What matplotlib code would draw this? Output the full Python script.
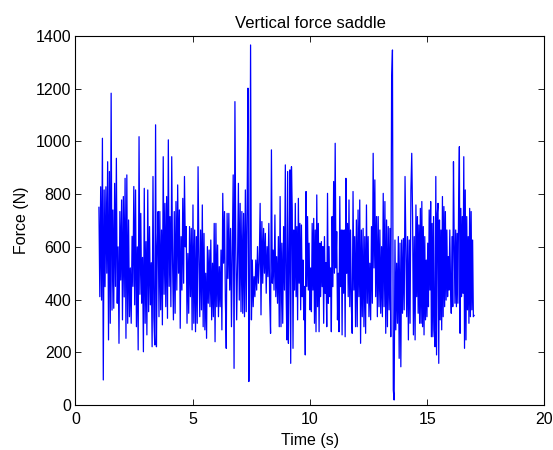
import numpy as np
import matplotlib
matplotlib.use('Agg')
import matplotlib.pyplot as plt

# force, one list per stretch of time
seg_edges = [1.0, 3.38, 6.17, 8.95, 11.73, 14.52, 17.0]

seg_a = [750, 411, 828, 398, 1012, 95, 816, 449, 828, 500, 923, 247, 886, 310, 1183, 360,
         740, 367, 841, 450, 936, 386, 600, 234, 734, 474, 778, 323, 791, 410, 860, 253,
         873, 310, 702, 335, 520, 310, 640, 450, 829, 380, 816, 297, 600, 209, 1018, 420,
         727, 386, 560, 202, 822, 310, 620, 266, 816, 354, 677, 380, 540, 221, 867, 330]
seg_b = [228, 1063, 221, 600, 734, 335, 734, 361, 664, 304, 942, 420, 765, 373, 791, 329,
         1006, 450, 715, 373, 942, 538, 323, 734, 348, 772, 436, 835, 500, 740, 291, 639,
         436, 784, 462, 867, 600, 677, 310, 575, 348, 677, 411, 670, 285, 759, 310, 664,
         278, 639, 310, 904, 563, 335, 664, 361, 759, 297, 651, 285, 500, 253, 601, 386,
         588, 373, 626, 323, 538, 335, 689, 240, 689, 373, 607, 335, 525]
seg_c = [373, 588, 285, 803, 538, 734, 400, 215, 727, 480, 727, 436, 670, 297, 588, 873,
         139, 1151, 588, 323, 538, 841, 398, 765, 354, 734, 348, 727, 335, 816, 354, 736,
         1202, 89, 417, 1366, 323, 550, 373, 487, 411, 550, 436, 601, 462, 538, 765, 342,
         696, 462, 670, 500, 651, 424, 601, 487, 689, 400, 272, 968, 462, 588, 436, 721,
         411, 563, 386, 639, 297, 791, 297, 614, 310, 677, 436]
seg_d = [911, 436, 247, 886, 234, 538, 892, 158, 904, 740, 215, 664, 436, 765, 411, 677,
         323, 784, 462, 689, 361, 683, 411, 550, 323, 450, 190, 810, 450, 715, 436, 614,
         361, 520, 354, 689, 436, 708, 310, 664, 278, 797, 373, 689, 278, 614, 411, 620,
         449, 601, 310, 639, 424, 540, 297, 803, 386, 601, 411, 520, 278, 715, 449, 848,
         500, 993, 520, 658, 323, 500, 278, 791, 449, 664, 266, 664, 424, 664, 259, 860,
         500, 689, 411, 778, 373]
seg_e = [664, 373, 272, 810, 436, 639, 297, 702, 297, 740, 411, 778, 234, 664, 335, 670,
         297, 639, 272, 759, 386, 639, 335, 538, 323, 677, 386, 955, 520, 854, 411, 715,
         335, 715, 373, 664, 348, 601, 335, 803, 373, 772, 272, 702, 297, 677, 361, 670,
         259, 1233, 1347, 57, 19, 626, 285, 538, 310, 639, 177, 614, 145, 626, 348, 632,
         361, 867, 614, 335, 639, 247, 626, 310, 816, 955, 715, 266, 639, 247]
seg_f = [759, 411, 715, 348, 683, 310, 746, 310, 772, 297, 677, 266, 639, 323, 550, 335,
         614, 373, 740, 436, 772, 259, 689, 259, 715, 285, 221, 867, 190, 727, 765, 158,
         702, 323, 664, 285, 791, 335, 753, 373, 734, 398, 664, 411, 563, 436, 664, 462,
         348, 639, 373, 923, 614, 386, 664, 373, 651, 386, 765, 980, 272, 746, 411, 715,
         424, 942, 215, 816, 247, 715, 361, 639, 310, 746, 335, 734, 361, 626, 335, 340]

segments = [seg_a, seg_b, seg_c, seg_d, seg_e, seg_f]

t = []
force = []
for i, seg in enumerate(segments):
    last = (i == len(segments) - 1)
    t.append(np.linspace(seg_edges[i], seg_edges[i + 1], len(seg), endpoint=last))
    force.extend(seg)
t = np.concatenate(t)
force = np.array(force)

plt.rcParams['font.family'] = ['Liberation Sans', 'DejaVu Sans']
plt.rcParams['font.size'] = 11.5

fig = plt.figure(figsize=(5.53, 4.5), dpi=100)
ax = fig.add_axes([0.1365, 0.1, 0.848, 0.82])
ax.plot(t, force, color='blue', linewidth=0.9)

ax.set_xlim(0, 20)
ax.set_ylim(0, 1400)
ax.set_xticks([0, 5, 10, 15, 20])
ax.set_yticks(np.arange(0, 1401, 200))
ax.tick_params(direction='in', top=True, right=True, length=4, width=0.6)
ax.tick_params(axis='x', pad=5)
ax.tick_params(axis='y', pad=3)
for s in ax.spines.values():
    s.set_linewidth(0.8)

ax.set_title('Vertical force saddle', fontsize=12, pad=5.5)
ax.set_xlabel('Time (s)', labelpad=4)
ax.set_ylabel('Force (N)', labelpad=5)

fig.savefig('out.png', dpi=100)
